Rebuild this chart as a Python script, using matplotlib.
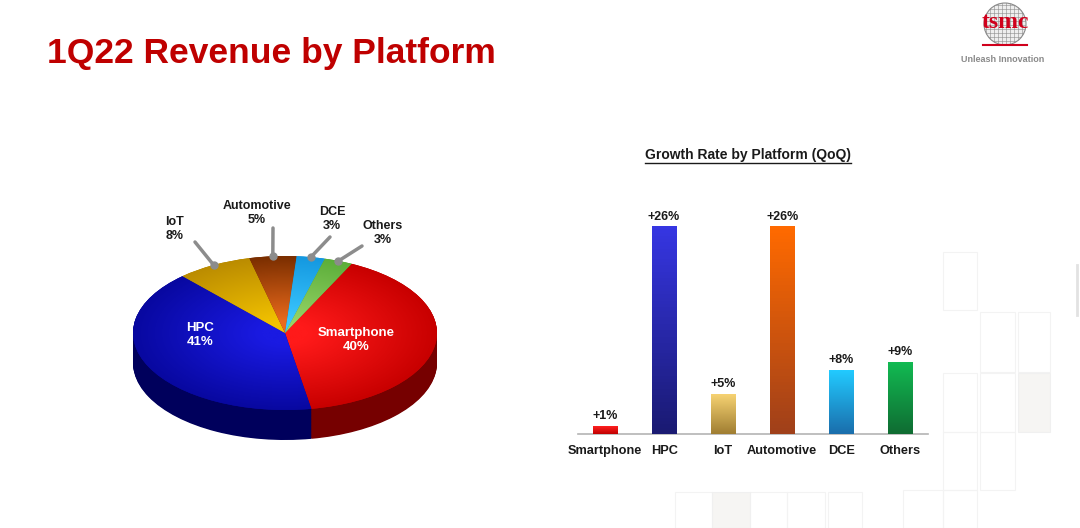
import numpy as np
import matplotlib.pyplot as plt
from matplotlib.colors import LinearSegmentedColormap
from matplotlib.patches import Circle, Rectangle
from matplotlib.lines import Line2D

# data
platforms = ['Smartphone', 'HPC', 'IoT', 'Automotive', 'DCE', 'Others']
revenue_share = [40, 41, 8, 5, 3, 3]
qoq_growth = [1, 26, 5, 26, 8, 9]

# colours
top_inner = ['#ff1a1a', '#1a1ae2', '#f2c200', '#ea6a1c', '#3cc8ff', '#96d466']
top_outer = ['#c80000', '#0808a0', '#bb8c00', '#7a2e00', '#1498e0', '#5cae3a']
side_colors = ['#760000', '#00005c', '#7a5a00', '#4a1c00', '#0a5a90', '#2f6e20']
bar_top = ['#ff2020', '#3636e2', '#f6d272', '#ff6a00', '#22caff', '#12ba52']
bar_bottom = ['#c00000', '#1a1a72', '#a07e32', '#a0401a', '#1a6eac', '#0f6c32']

W, H = 1080, 528
plt.rcParams['font.family'] = ['Liberation Sans', 'DejaVu Sans']
fig = plt.figure(figsize=(W / 100, H / 100), dpi=100)
fig.patch.set_facecolor('white')


def fx(x):
    return x / W


def fy(y):
    return 1 - y / H


# background decoration + logo (pixel coordinates)
bg = fig.add_axes([0, 0, 1, 1], zorder=-5)
bg.set_xlim(0, W)
bg.set_ylim(H, 0)
bg.axis('off')
squares = [(943, 252, 977, 310), (980, 312, 1015, 372), (1018, 312, 1050, 372),
           (943, 373, 977, 432), (980, 373, 1015, 432), (943, 432, 977, 490),
           (980, 432, 1015, 490), (903, 490, 943, 528), (943, 490, 977, 528),
           (675, 492, 712, 528), (750, 492, 787, 528), (787, 492, 825, 528),
           (828, 492, 862, 528)]
for x0, y0, x1, y1 in squares:
    bg.add_patch(Rectangle((x0, y0), x1 - x0, y1 - y0, fill=False,
                           ec='#f3f3f3', lw=0.8))
for x0, y0, x1, y1 in [(1018, 373, 1050, 432), (712, 492, 750, 528)]:
    bg.add_patch(Rectangle((x0, y0), x1 - x0, y1 - y0, fc='#f6f5f3',
                           ec='#f0f0f0', lw=0.8))
bg.plot([1077, 1077], [265, 315], color='#e2e2e2', lw=2)

wafer = Circle((1005, 24), 21, fc='#eeeeee', ec='#8a8a8a', lw=0.8)
bg.add_patch(wafer)
for g in np.arange(986, 1026, 4):
    ln = bg.plot([g, g], [2, 46], color='#8a8a8a', lw=0.4)[0]
    ln.set_clip_path(wafer)
    ln = bg.plot([983, 1027], [g - 981, g - 981], color='#8a8a8a', lw=0.4)[0]
    ln.set_clip_path(wafer)
bg.text(1005, 22, 'tsmc', color='#d0001c', fontsize=17, fontweight='bold',
        family=['Liberation Serif', 'DejaVu Serif'], ha='center', va='center')
bg.plot([983, 1027], [45, 45], color='#d0001c', lw=1.5)
bg.text(1003, 60, 'Unleash Innovation', color='#8a8a8a', fontsize=6.5,
        fontweight='bold', ha='center', va='center')

# title
fig.text(fx(47), fy(53), '1Q22 Revenue by Platform', fontsize=25.5,
         fontweight='bold', color='#bf0000', ha='left', va='center')

# ---- 3D pie ----
cx, cy, rx, ry, depth = 285, 333, 152, 77, 30
axp = fig.add_axes([fx(120), fy(450), 330 / W, 260 / H])
d = depth / ry
for k in np.linspace(d, 0.005, 40):
    axp.pie(revenue_share, colors=side_colors, startangle=64, counterclock=False,
            center=(0, -k), wedgeprops=dict(linewidth=0))
wedges, _ = axp.pie(revenue_share, colors=top_outer, startangle=64,
                    counterclock=False, wedgeprops=dict(linewidth=0))

gx, gy = np.meshgrid(np.linspace(-1, 1, 300), np.linspace(-1, 1, 300))
rr = np.hypot(gx, gy)
for w, c0, c1 in zip(wedges, top_inner, top_outer):
    cmap = LinearSegmentedColormap.from_list('g', [c0, c1])
    im = axp.imshow(rr, cmap=cmap, vmin=0.15, vmax=1.0, extent=(-1, 1, -1, 1),
                    origin='lower', aspect='auto', zorder=w.get_zorder() + 0.1)
    im.set_clip_path(w)

axp.set_aspect('auto')
axp.set_xlim((120 - cx) / rx, (450 - cx) / rx)
axp.set_ylim((cy - 450) / ry, (cy - 190) / ry)
axp.axis('off')

# labels inside the pie
inside = {'HPC': (200, 335), 'Smartphone': (356, 340)}
# labels above the pie: text position, leader start
outside = {'IoT': ((175, 229), (195, 242)),
           'Automotive': ((257, 213), (273, 228)),
           'DCE': ((332, 219), (330, 237)),
           'Others': ((383, 233), (362, 246))}
for w, name, share in zip(wedges, platforms, revenue_share):
    label = f'{name}\n{share}%'
    if name in inside:
        px, py = inside[name]
        fig.text(fx(px), fy(py), label, color='white', fontsize=9.5,
                 fontweight='bold', ha='center', va='center', linespacing=1.3)
    else:
        (tx, ty), (sx, sy) = outside[name]
        fig.text(fx(tx), fy(ty), label, color='#1a1a1a', fontsize=9,
                 fontweight='bold', ha='center', va='center', linespacing=1.25)
        mid = np.deg2rad((w.theta1 + w.theta2) / 2)
        ex, ey = np.cos(mid), np.sin(mid)
        axp.annotate('', xy=(ex, ey), xytext=(sx, H - sy),
                     textcoords='figure pixels', annotation_clip=False,
                     arrowprops=dict(arrowstyle='-', color='#8c8c8c', lw=2.5,
                                     shrinkA=0, shrinkB=0))
        axp.plot(ex, ey, 'o', color='#8c8c8c', ms=5, clip_on=False, zorder=5)

# ---- growth bars ----
axb = fig.add_axes([fx(578), fy(434), 350 / W, (434 - 180) / H])
xpos = np.arange(len(platforms))
bars = axb.bar(xpos, qoq_growth, width=0.42, color=bar_bottom, linewidth=0)
grad = np.linspace(0, 1, 64).reshape(-1, 1)
for b, c0, c1 in zip(bars, bar_bottom, bar_top):
    cmap = LinearSegmentedColormap.from_list('b', [c0, c1])
    axb.imshow(grad, cmap=cmap, origin='lower', aspect='auto',
               extent=(b.get_x(), b.get_x() + b.get_width(), 0, b.get_height()),
               zorder=3)
for xi, v in zip(xpos, qoq_growth):
    axb.annotate(f'+{v}%', (xi, v), xytext=(0, 3), textcoords='offset points',
                 ha='center', va='bottom', fontsize=9, fontweight='bold',
                 color='#1a1a1a')
axb.set_xlim(-0.458, 5.47)
axb.set_ylim(0, 31.9)
axb.set_xticks(xpos, platforms, fontsize=9.2, fontweight='bold', color='#1a1a1a')
axb.set_yticks([])
axb.tick_params(axis='x', length=0, pad=8)
for s in ['top', 'left', 'right']:
    axb.spines[s].set_visible(False)
axb.spines['bottom'].set_color('#b4b4b4')
axb.spines['bottom'].set_linewidth(1.2)
axb.patch.set_alpha(0)

t = fig.text(fx(748), fy(155), 'Growth Rate by Platform (QoQ)', fontsize=10,
             fontweight='bold', color='#1a1a1a', ha='center', va='center')
fig.canvas.draw()
bb = t.get_window_extent()
fig.add_artist(Line2D([bb.x0 / W, bb.x1 / W], [(bb.y0 - 1) / H, (bb.y0 - 1) / H],
                      color='#1a1a1a', lw=1))

fig.savefig('out.png', dpi=100)
